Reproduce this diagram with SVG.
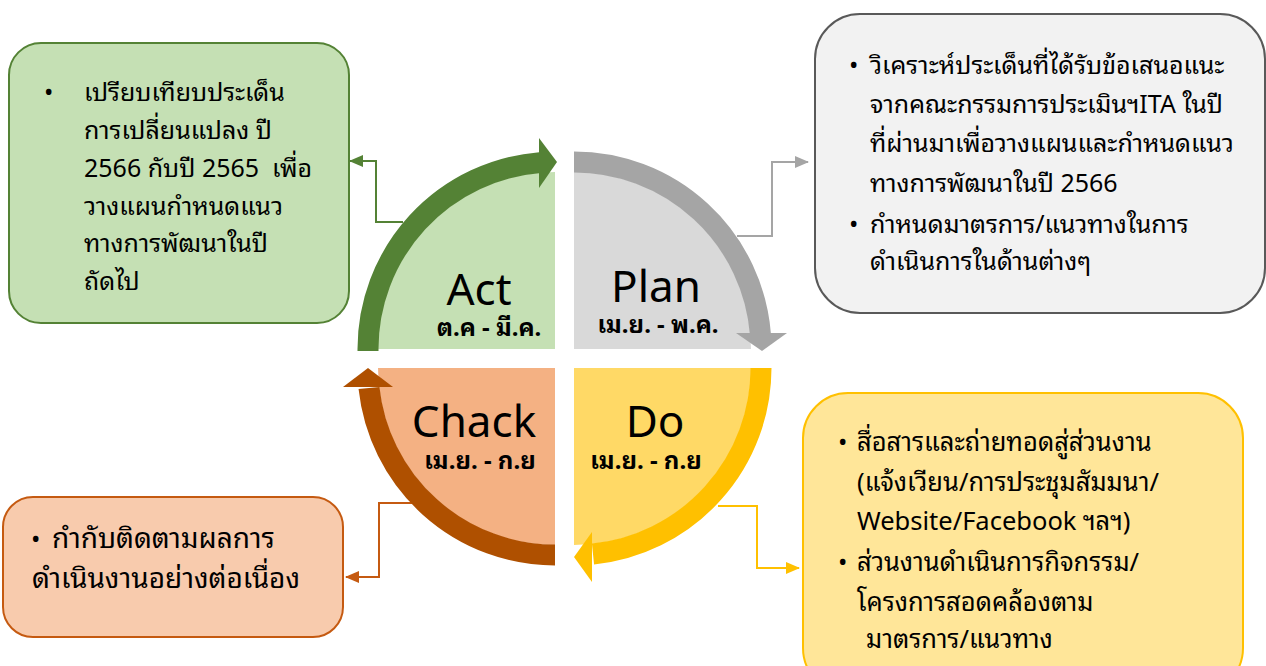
<svg xmlns="http://www.w3.org/2000/svg" width="1266" height="666" viewBox="0 0 1266 666">
<defs>
<style>
.t{font-family:"Noto Sans Thai Looped","Noto Sans Thai","Noto Sans","DejaVu Sans",sans-serif;fill:#000;}
.big{font-size:44px;text-anchor:middle;font-family:"Noto Sans","DejaVu Sans",sans-serif;}
.sub{font-size:24px;font-weight:bold;text-anchor:middle;}
.box{font-size:25px;}
.arc{fill:none;stroke-width:21;}
.con{fill:none;stroke-width:2;}
</style>
<marker id="mg" markerUnits="userSpaceOnUse" markerWidth="14" markerHeight="12" refX="13" refY="6" orient="auto"><path d="M0,0 L14,6 L0,12 Z" fill="#548235"/></marker>
<marker id="mp" markerUnits="userSpaceOnUse" markerWidth="14" markerHeight="12" refX="13" refY="6" orient="auto"><path d="M0,0 L14,6 L0,12 Z" fill="#A5A5A5"/></marker>
<marker id="mo" markerUnits="userSpaceOnUse" markerWidth="14" markerHeight="12" refX="13" refY="6" orient="auto"><path d="M0,0 L14,6 L0,12 Z" fill="#C55A11"/></marker>
<marker id="my" markerUnits="userSpaceOnUse" markerWidth="14" markerHeight="12" refX="13" refY="6" orient="auto"><path d="M0,0 L14,6 L0,12 Z" fill="#FFC000"/></marker>
</defs>
<rect width="1266" height="666" fill="#fff"/>

<g id="connectors">
<path class="con" stroke="#548235" d="M403,222 L376,222 L376,161 L350,161" marker-end="url(#mg)"/>
<path class="con" stroke="#A5A5A5" d="M737,236 L772,236 L772,162 L808,162" marker-end="url(#mp)"/>
<path class="con" stroke="#C55A11" d="M412,503 L379,503 L379,577 L346,577" marker-end="url(#mo)"/>
<path class="con" stroke="#FFC000" d="M718,506 L757,506 L757,568 L799,568" marker-end="url(#my)"/>
</g>

<g id="act">
<path d="M555,349 L378,349 A177,177 0 0 1 555,172 Z" fill="#C5E0B4"/>
<path class="arc" stroke="#548235" d="M368,351 L368,349 A187,187 0 0 1 540,162.6"/>
<polygon points="539,138 557,162 539,188" fill="#548235"/>
<text class="t big" x="479" y="305">Act</text>
<text class="t sub" x="489" y="336">ต.ค - มี.ค.</text>
</g>

<g id="plan">
<path d="M574,349 L574,172 A177,177 0 0 1 751,349 Z" fill="#D9D9D9"/>
<path class="arc" stroke="#A5A5A5" d="M574,162 A187,187 0 0 1 760.4,334"/>
<polygon points="736,333 762,351 787,333" fill="#A5A5A5"/>
<text class="t big" x="656" y="302">Plan</text>
<text class="t sub" x="658" y="333">เม.ย. - พ.ค.</text>
</g>

<g id="do">
<path d="M574,368 L751,368 A177,177 0 0 1 574,545 Z" fill="#FFD966"/>
<path class="arc" stroke="#FFC000" d="M761,368 A187,187 0 0 1 593,554"/>
<polygon points="592,532 574,557 592,582" fill="#FFC000"/>
<text class="t big" x="655" y="437">Do</text>
<text class="t sub" x="646" y="469">เม.ย. - ก.ย</text>
</g>

<g id="chack">
<path d="M555,368 L555,545 A177,177 0 0 1 378,368 Z" fill="#F4B183"/>
<path class="arc" stroke="#AF5000" d="M555,555 A187,187 0 0 1 369,388"/>
<polygon points="343,387 368,368 393,387" fill="#AF5000"/>
<text class="t big" x="474" y="437">Chack</text>
<text class="t sub" x="480" y="469">เม.ย. - ก.ย</text>
</g>

<g id="box-act">
<rect x="9" y="43" width="340" height="280" rx="32" fill="#C5E0B4" stroke="#548235" stroke-width="2"/>
<text class="t box" x="44" y="101">•</text>
<text class="t box" xml:space="preserve"><tspan x="84" y="101">เปรียบเทียบประเด็น</tspan><tspan x="84" y="139">การเปลี่ยนแปลง ปี</tspan><tspan x="84" y="177">2566 กับปี 2565  เพื่อ</tspan><tspan x="84" y="215">วางแผนกำหนดแนว</tspan><tspan x="84" y="252">ทางการพัฒนาในปี</tspan><tspan x="84" y="290">ถัดไป</tspan></text>
</g>

<g id="box-plan">
<rect x="815" y="14" width="450" height="299" rx="45" fill="#F2F2F2" stroke="#595959" stroke-width="2"/>
<text class="t box" x="849" y="74">•</text>
<text class="t box" x="849" y="233">•</text>
<text class="t box"><tspan x="870" y="74">วิเคราะห์ประเด็นที่ได้รับข้อเสนอแนะ</tspan><tspan x="870" y="113">จากคณะกรรมการประเมินฯITA ในปี</tspan><tspan x="870" y="152">ที่ผ่านมาเพื่อวางแผนและกำหนดแนว</tspan><tspan x="870" y="192">ทางการพัฒนาในปี 2566</tspan><tspan x="870" y="233">กำหนดมาตรการ/แนวทางในการ</tspan><tspan x="870" y="270">ดำเนินการในด้านต่างๆ</tspan></text>
</g>

<g id="box-chack">
<rect x="3" y="497" width="340" height="140" rx="30" fill="#F8CBAD" stroke="#C55A11" stroke-width="2"/>
<text class="t box" x="31" y="548">•</text>
<text class="t box" style="font-size:28px"><tspan x="52" y="548">กำกับติดตามผลการ</tspan><tspan x="32" y="588">ดำเนินงานอย่างต่อเนื่อง</tspan></text>
</g>

<g id="box-do">
<rect x="803" y="393" width="440" height="300" rx="45" fill="#FFE699" stroke="#FFC000" stroke-width="2"/>
<text class="t box" x="838" y="451">•</text>
<text class="t box" x="838" y="571">•</text>
<text class="t box" xml:space="preserve" style="font-size:25.5px"><tspan x="857" y="451">สื่อสารและถ่ายทอดสู่ส่วนงาน</tspan><tspan x="857" y="491">(แจ้งเวียน/การประชุมสัมมนา/</tspan><tspan x="857" y="530">Website/Facebook ฯลฯ)</tspan><tspan x="857" y="571">ส่วนงานดำเนินการกิจกรรม/</tspan><tspan x="857" y="611">โครงการสอดคล้องตาม</tspan><tspan x="866" y="648">มาตรการ/แนวทาง</tspan></text>
</g>
</svg>
